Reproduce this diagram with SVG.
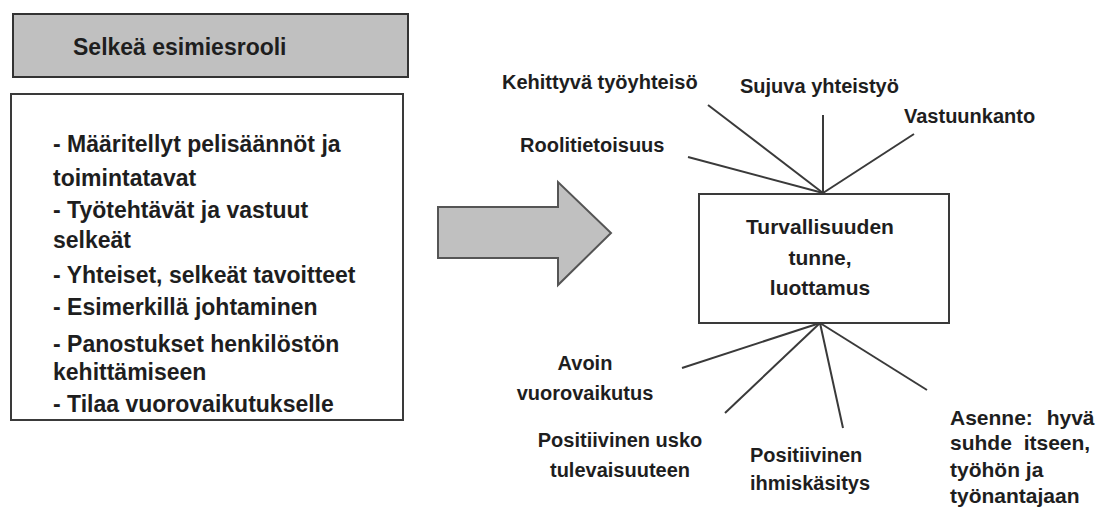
<svg xmlns="http://www.w3.org/2000/svg" width="1096" height="513" viewBox="0 0 1096 513">
<style>
text{font-family:"Liberation Sans",Arial,sans-serif;font-weight:bold;fill:#1e1e1e}
.body{font-size:23px}
.lbl{font-size:20px}
.box{fill:#fff;stroke:#3a3a3a;stroke-width:2}
.con{stroke:#3a3a3a;stroke-width:2;fill:none}
</style>
<rect width="1096" height="513" fill="#fff"/>
<g id="title">
<rect x="13" y="14" width="395" height="63" fill="#c0c0c0" stroke="#333" stroke-width="2"/>
<text x="73" y="55" style="font-size:23px">Selkeä esimiesrooli</text>
</g>
<g id="list">
<rect class="box" x="11" y="94" width="392" height="326"/>
<text class="body" x="53" y="152">- Määritellyt pelisäännöt ja</text>
<text class="body" x="53" y="186">toimintatavat</text>
<text class="body" x="53" y="218">- Työtehtävät ja vastuut</text>
<text class="body" x="53" y="248">selkeät</text>
<text class="body" x="53" y="283">- Yhteiset, selkeät tavoitteet</text>
<text class="body" x="53" y="315">- Esimerkillä johtaminen</text>
<text class="body" x="53" y="352">- Panostukset henkilöstön</text>
<text class="body" x="53" y="380">kehittämiseen</text>
<text class="body" x="53" y="412">- Tilaa vuorovaikutukselle</text>
</g>
<g id="arrow">
<polygon points="438,207 558,207 558,182 611,233 558,285 558,258 438,258" fill="#c0c0c0" stroke="#555" stroke-width="2" stroke-linejoin="miter"/>
</g>
<g id="center">
<rect class="box" x="699" y="194" width="250" height="129"/>
<text x="820" y="234" text-anchor="middle" style="font-size:21px">Turvallisuuden</text>
<text x="820" y="265" text-anchor="middle" style="font-size:21px">tunne,</text>
<text x="820" y="295" text-anchor="middle" style="font-size:21px">luottamus</text>
</g>
<g id="connectors">
<line class="con" x1="708" y1="105" x2="823" y2="193"/>
<line class="con" x1="688" y1="157" x2="823" y2="193"/>
<line class="con" x1="823" y1="115" x2="823" y2="193"/>
<line class="con" x1="914" y1="134" x2="823" y2="193"/>
<line class="con" x1="682" y1="368" x2="820" y2="323"/>
<line class="con" x1="725" y1="413" x2="820" y2="323"/>
<line class="con" x1="843" y1="428" x2="820" y2="323"/>
<line class="con" x1="927" y1="390" x2="820" y2="323"/>
</g>
<g id="kehittyva"><text class="lbl" x="502" y="89">Kehittyvä työyhteisö</text></g>
<g id="roolitietoisuus"><text class="lbl" x="520" y="152">Roolitietoisuus</text></g>
<g id="sujuva"><text class="lbl" x="740" y="93">Sujuva yhteistyö</text></g>
<g id="vastuunkanto"><text class="lbl" x="904" y="123">Vastuunkanto</text></g>
<g id="avoin">
<text class="lbl" x="585" y="370" text-anchor="middle">Avoin</text>
<text class="lbl" x="585" y="400" text-anchor="middle">vuorovaikutus</text>
</g>
<g id="usko">
<text class="lbl" x="620" y="447" text-anchor="middle">Positiivinen usko</text>
<text class="lbl" x="620" y="477" text-anchor="middle">tulevaisuuteen</text>
</g>
<g id="ihmiskasitys">
<text class="lbl" x="750" y="462">Positiivinen</text>
<text class="lbl" x="750" y="490">ihmiskäsitys</text>
</g>
<g id="asenne">
<text class="lbl" x="950" y="425" style="font-size:21px" word-spacing="8">Asenne: hyvä</text>
<text class="lbl" x="950" y="450" style="font-size:21px" word-spacing="6">suhde itseen,</text>
<text class="lbl" x="950" y="477" style="font-size:21px">työhön ja</text>
<text class="lbl" x="950" y="503" style="font-size:21px">työnantajaan</text>
</g>
</svg>
